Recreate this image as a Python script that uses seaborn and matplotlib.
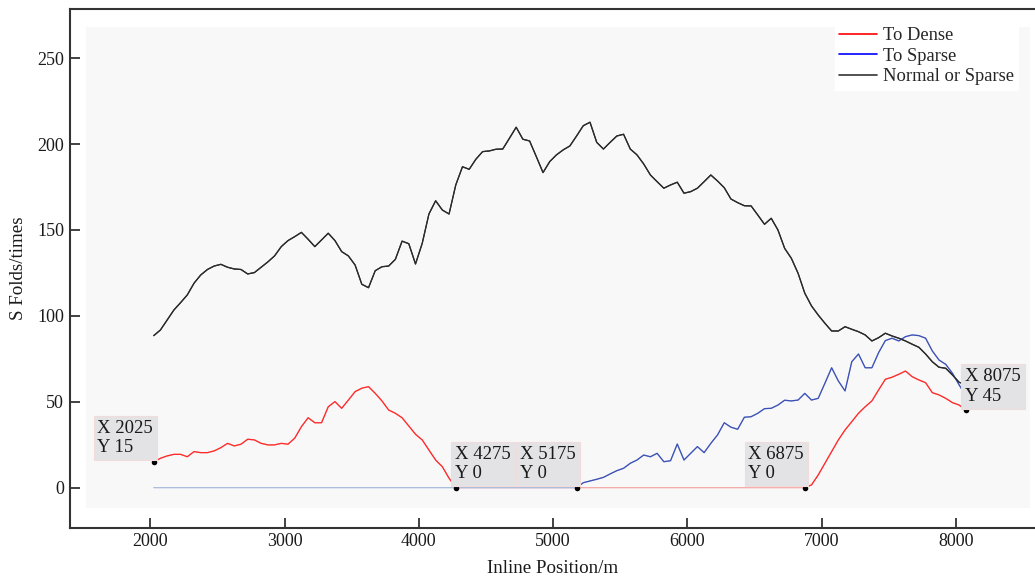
import numpy as np
import pandas as pd
import matplotlib
matplotlib.use("Agg")
import matplotlib.pyplot as plt
import seaborn as sns
from matplotlib.patches import Rectangle

# ---------------- data ----------------
inline_pos = list(range(2025, 8076, 50))  # 122 positions

normal_or_sparse = [
    88.5, 91.8, 97.6, 103.4, 107.7, 112.2, 119, 123.8, 127, 129,
    130, 128.3, 127.3, 127, 124.4, 125.2, 128.3, 131.4, 134.9, 140.3,
    143.8, 146.1, 148.6, 144.6, 140.3, 144.2, 148.1, 143.8, 137.4, 134.9,
    129.6, 118.4, 116.4, 126.3, 128.6, 129, 132.9, 143.5, 142, 130.2,
    142.2, 159.3, 167, 161.6, 159.3, 176.2, 186.8, 185.3, 191.2, 195.6,
    196, 197, 197.1, 203.4, 209.8, 202.8, 201.8, 192.7, 183.4, 189.8,
    193.7, 196.6, 198.9, 204.7, 210.7, 212.7, 201, 197.1, 201, 204.7,
    205.7, 197.1, 193.7, 188.4, 182, 178.1, 174.3, 176.2, 177.8, 171.4,
    172.3, 174.3, 178.1, 182, 178.5, 174.6, 168, 165.9, 164.1, 164,
    158.7, 153.3, 156.8, 150, 139.3, 133.5, 124.8, 113.2, 105.8, 100.5,
    95.7, 91.2, 91.2, 93.7, 92.2, 90.8, 88.9, 85.4, 87.3, 89.9,
    88.3, 87, 85.4, 83.5, 81.7, 77.8, 73.3, 70.1, 69.5, 65.6,
    61.3, 60.2,
]

to_dense_left = [
    15, 17.1, 18.5, 19.4, 19.4, 18, 21, 20.4, 20.4, 21.4,
    23.3, 25.8, 24.3, 25.3, 28.2, 27.8, 25.8, 24.9, 24.9, 25.8,
    25.3, 28.8, 35.5, 40.7, 37.8, 37.8, 47.1, 50.1, 46.2, 51,
    55.9, 57.9, 58.8, 54.9, 50.5, 45.2, 43.3, 40.7, 35.9, 31.1,
    27.8, 21.9, 16.1, 12.2, 5.5, 0,
]  # 2025 .. 4275
to_dense_zero = [0] * 51  # 4325 .. 6825
to_dense_right = [
    0, 1.6, 7.4, 14.2, 21, 27.8, 33.6, 38.4, 43.3, 47.1,
    50.5, 56.9, 63.1, 64.3, 66, 67.9, 64.6, 62.7, 61.1, 55.3,
    54, 52, 49.5, 48.1, 45,
]  # 6875 .. 8075
to_dense = to_dense_left + to_dense_zero + to_dense_right

to_sparse_zero = [0] * 63  # 2025 .. 5125
to_sparse_rise = [
    0, 2.9, 3.9, 4.9, 6, 8, 9.9, 11.3, 14.2, 16.1,
    19, 18, 20, 15.1, 15.7, 25.4, 16.1, 20, 23.9, 20.4,
    25.8, 30.7, 37.8, 35.2, 34, 41, 41.3, 43.3, 46, 46.2,
    48.1, 50.9, 50.5, 51, 54.9, 51, 52, 60.8, 69.8, 62.1,
    56.3, 73.3, 77.8, 69.8, 69.8, 78.6, 85.6, 87, 85.4, 87.9,
    88.9, 88.5, 87, 79.6, 74.3, 71.8, 66.6, 59.8, 53.4,
]  # 5175 .. 8075
to_sparse = to_sparse_zero + to_sparse_rise

series_names = ["To Dense", "To Sparse", "Normal or Sparse"]
series_colors = ["#ff2a2a", "#3c4fb8", "#2b2b2b"]
zero_colors = ["#f7a8a8", "#a9bbdc", "#2b2b2b"]
legend_colors = ["#ff0000", "#0000ff", "#333333"]

marker_x = [2025, 4275, 5175, 6875, 8075]
marker_y = [15, 0, 0, 0, 45]
marker_side = ["left", "right", "left", "left", "right"]

x_ticks = [2000, 3000, 4000, 5000, 6000, 7000, 8000]
y_ticks = [0, 50, 100, 150, 200, 250]
x_label = "Inline Position/m"
y_label = "S Folds/times"

# ---------------- plot ----------------
sns.set_style("ticks")
plt.rcParams["font.family"] = ["Liberation Serif", "DejaVu Serif"]

fig = plt.figure(figsize=(10.35, 5.78), dpi=100)
ax = fig.add_axes([0.068, 0.087, 0.932, 0.8974])
ax.set_facecolor("white")

# light inner plotting panel
ax.add_patch(Rectangle((1521, -12), 8555 - 1521, 268 + 12,
                       facecolor="#f8f8f8", edgecolor="none", zorder=0))

df = pd.DataFrame({
    "x": inline_pos * 3,
    "y": to_dense + to_sparse + normal_or_sparse,
    "series": sum([[n] * len(inline_pos) for n in series_names], []),
})

handles = []
for name, col, zcol, lcol in zip(series_names, series_colors, zero_colors,
                                 legend_colors):
    sub = df[df["series"] == name].reset_index(drop=True)
    y = sub["y"].to_numpy()
    n = len(y)
    # points belonging to a flat run of zeros
    is_zero_run = np.array([
        y[i] == 0 and ((i > 0 and y[i - 1] == 0) or (i < n - 1 and y[i + 1] == 0))
        for i in range(n)
    ])
    # pale full line underneath (the flat zero stretches stay pale)
    sns.lineplot(data=sub, x="x", y="y", ax=ax, color=zcol, lw=0.9,
                 sort=False, estimator=None, zorder=2, legend=False)
    # strong colour for the varying parts
    sub["seg"] = np.cumsum(np.r_[0, np.diff(is_zero_run.astype(int)) != 0])
    for sid, part in sub.groupby("seg"):
        if is_zero_run[part.index].all():
            continue
        lo = max(part.index.min() - 1, 0)
        hi = min(part.index.max() + 1, n - 1)
        sns.lineplot(data=sub.loc[lo:hi], x="x", y="y", ax=ax, color=col,
                     lw=0.9, sort=False, estimator=None, zorder=3,
                     legend=False)
    handles.append(plt.Line2D([], [], color=lcol, lw=1.2, label=name))

mk = pd.DataFrame({"x": marker_x, "y": marker_y})
sns.scatterplot(data=mk, x="x", y="y", ax=ax, color="black", s=16,
                edgecolor="black", linewidth=0, zorder=5, legend=False)

for mx, my, side in zip(marker_x, marker_y, marker_side):
    txt = f"X {mx}\nY {my}"
    if side == "left":
        off, ha = (-0.5, 4.0), "right"
    else:
        off, ha = (-0.5, 4.0), "left"
    ax.annotate(txt, xy=(mx, my), xytext=off, textcoords="offset points",
                ha=ha, va="bottom", multialignment="left", fontsize=13.5,
                color="#1a1a1a", linespacing=1.2, zorder=6,
                bbox=dict(boxstyle="square,pad=0.2", facecolor="#e3e3e5",
                          edgecolor="#f1dcdc", linewidth=0.8))

ax.set_xlim(1404, 8590)
ax.set_ylim(-23.3, 278.6)
ax.set_xticks(x_ticks)
ax.set_yticks(y_ticks)
ax.tick_params(direction="in", length=7, width=1.3, color="#333333",
               labelsize=13, labelcolor="#1a1a1a", pad=4)
ax.tick_params(axis="y", pad=4.5)
ax.set_xlabel(x_label, fontsize=13.7, color="#1a1a1a", labelpad=7)
ax.set_ylabel(y_label, fontsize=13.7, color="#1a1a1a", labelpad=7)

for s in ["left", "bottom", "top"]:
    ax.spines[s].set_color("#333333")
    ax.spines[s].set_linewidth(1.5)
ax.spines["right"].set_visible(False)

leg = ax.legend(handles=handles, loc="upper left",
                bbox_to_anchor=(0.7927, 0.9730),
                frameon=True, fontsize=13.3, handlelength=2.05,
                handletextpad=0.35, labelspacing=0.2, borderpad=0.22,
                borderaxespad=0)
leg.get_frame().set_facecolor("white")
leg.get_frame().set_edgecolor("white")
leg.get_frame().set_alpha(1)
leg.get_frame().set_boxstyle("square", pad=0)

fig.savefig("out.png", dpi=100)
